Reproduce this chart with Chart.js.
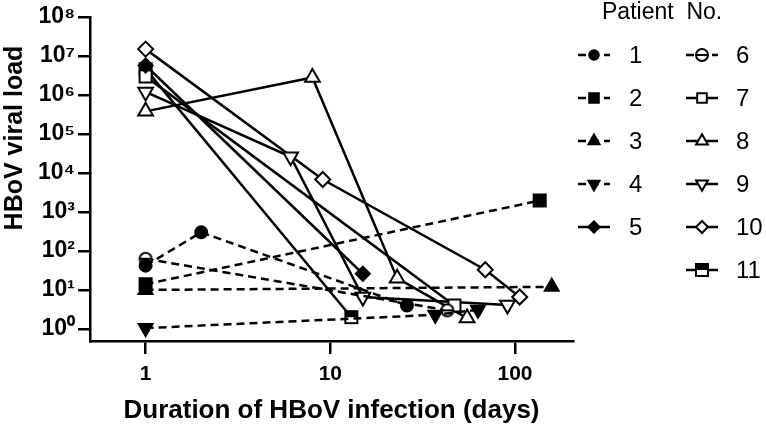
<!DOCTYPE html>
<html lang="en">
<head>
<meta charset="UTF-8">
<title>HBoV viral load</title>
<script src="https://cdn.jsdelivr.net/npm/chart.js@4.4.1/dist/chart.umd.min.js"></script>
<style>
  html, body { margin: 0; padding: 0; background: #fff; }
  #wrap { width: 766px; height: 426px; }
</style>
</head>
<body>
<div id="wrap"><canvas id="chart" width="766" height="426"></canvas></div>
<script>
// days of infection and viral load, one pair of arrays per patient
const days1 = [1, 2, 26];          const load1 = [42, 300, 4];
const days2 = [1, 136];            const load2 = [14, 1960];
const days3 = [1, 158];            const load3 = [10, 12];
const days4 = [1, 37, 63];         const load4 = [1.05, 2.3, 3.1];
const days5 = [1, 15];             const load5 = [5.7e6, 26];
const days6 = [1, 43];             const load6 = [63, 3];
const days7 = [1, 47];             const load7 = [3e6, 4];
const days8 = [1, 8, 23, 55];      const load8 = [3.8e5, 2.8e6, 20, 1.9];
const days9 = [1, 6.1, 15, 91];    const load9 = [1.2e6, 2.6e4, 6.6, 4.1];
const days10 = [1, 9.1, 69, 106];  const load10 = [1.5e7, 6.8e3, 33, 6.6];
const days11 = [1, 13];            const load11 = [4.6e6, 2];

const patients = ['1', '2', '3', '4', '5', '6', '7', '8', '9', '10', '11'];
const xTicks = [1, 10, 100];
const yTicks = [1, 10, 1e2, 1e3, 1e4, 1e5, 1e6, 1e7, 1e8];

const FONT = '"Liberation Sans", Arial, Helvetica, sans-serif';
const sup = ['⁰', '¹', '²', '³', '⁴', '⁵', '⁶', '⁷', '⁸'];

// half-filled markers (patients 6 and 11)
function thetaCircle() {
  const c = document.createElement('canvas');
  c.width = 16; c.height = 16;
  const g = c.getContext('2d');
  g.lineWidth = 2; g.strokeStyle = '#000'; g.fillStyle = '#fff';
  g.beginPath(); g.arc(8, 8, 6, 0, Math.PI * 2); g.fill(); g.stroke();
  g.beginPath(); g.moveTo(2, 8); g.lineTo(14, 8); g.stroke();
  return c;
}
function halfSquare() {
  const c = document.createElement('canvas');
  c.width = 16; c.height = 16;
  const g = c.getContext('2d');
  g.fillStyle = '#fff'; g.fillRect(2, 2, 12, 12);
  g.fillStyle = '#000'; g.fillRect(2, 2, 12, 6);
  g.lineWidth = 2; g.strokeStyle = '#000'; g.strokeRect(2, 2, 12, 12);
  return c;
}

const dashed = [8, 5];
function series(i, days, load, style, open, dash, radius, rotation) {
  return {
    label: patients[i],
    data: days.map((d, k) => ({ x: d, y: load[k] })),
    borderColor: '#000',
    borderWidth: 2.5,
    borderDash: dash ? dashed : [],
    pointStyle: style,
    pointRotation: rotation || 0,
    pointRadius: radius,
    pointHoverRadius: radius,
    pointBorderWidth: 2,
    pointBorderColor: '#000',
    pointBackgroundColor: open ? '#fff' : '#000',
    tension: 0,
    clip: false
  };
}

const datasets = [
  series(0, days1, load1, 'circle', false, true, 6),
  series(1, days2, load2, 'rect', false, true, 8.5),
  series(2, days3, load3, 'triangle', false, true, 8),
  series(3, days4, load4, 'triangle', false, true, 8, 180),
  series(4, days5, load5, 'rectRot', false, false, 7),
  series(5, days6, load6, thetaCircle(), true, true, 7),
  series(6, days7, load7, 'rect', true, false, 8.5),
  series(7, days8, load8, 'triangle', true, false, 8.5),
  series(8, days9, load9, 'triangle', true, false, 8.5, 180),
  series(9, days10, load10, 'rectRot', true, false, 7.5),
  series(10, days11, load11, halfSquare(), true, false, 7)
];

// legend in two columns plus y title, drawn on the canvas
const extras = {
  id: 'extras',
  afterDraw(chart) {
    const ctx = chart.ctx;
    ctx.save();
    ctx.fillStyle = '#000';
    ctx.textBaseline = 'middle';

    ctx.save();
    ctx.font = 'bold 25px ' + FONT;
    ctx.textAlign = 'center';
    ctx.translate(15, 138);
    ctx.rotate(-Math.PI / 2);
    ctx.fillText('HBoV viral load', 0, 0);
    ctx.restore();

    ctx.font = '23px ' + FONT;
    ctx.textAlign = 'left';
    ctx.fillText('Patient  No.', 602, 13);

    chart.data.datasets.forEach((ds, i) => {
      const col = i < 5 ? 0 : 1;
      const row = i < 5 ? i : i - 5;
      const mx = col ? 702 : 594;
      const y = 55 + row * 43;
      ctx.strokeStyle = '#000';
      ctx.lineWidth = 2.5;
      ctx.setLineDash(ds.borderDash);
      ctx.beginPath(); ctx.moveTo(mx - 16, y); ctx.lineTo(mx + 16, y); ctx.stroke();
      ctx.setLineDash([]);
      ctx.fillStyle = ds.pointBackgroundColor;
      ctx.lineWidth = 2;
      Chart.helpers.drawPoint(ctx, {
        pointStyle: ds.pointStyle, rotation: ds.pointRotation,
        radius: ds.pointRadius * 0.8, borderWidth: 2
      }, mx, y);
      ctx.fillStyle = '#000';
      ctx.font = '24px ' + FONT;
      ctx.fillText(ds.label, col ? 736 : 629, y + 1);
    });
    ctx.restore();
  }
};

new Chart(document.getElementById('chart'), {
  type: 'line',
  data: { datasets: datasets },
  plugins: [extras],
  options: {
    responsive: false,
    animation: false,
    devicePixelRatio: 1,
    layout: { padding: { left: 0, right: 193, top: 17, bottom: 0 } },
    plugins: { legend: { display: false }, tooltip: { enabled: false } },
    scales: {
      x: {
        type: 'logarithmic',
        min: 0.5, max: 206,
        afterBuildTicks: s => { s.ticks = xTicks.map(v => ({ value: v })); },
        afterFit: s => { s.height = 85; },
        ticks: {
          callback: v => String(v),
          font: { family: FONT, size: 21, weight: 'bold' },
          color: '#000', padding: 8, maxRotation: 0, autoSkip: false
        },
        grid: { display: true, drawOnChartArea: false, drawTicks: true, tickLength: 13, color: '#000', lineWidth: 2.5 },
        border: { display: true, color: '#000', width: 2.5 },
        title: {
          display: true, text: 'Duration of HBoV infection (days)',
          font: { family: FONT, size: 26, weight: 'bold' }, color: '#000',
          padding: { top: 0, bottom: 0 }
        }
      },
      y: {
        type: 'logarithmic',
        min: 0.49, max: 1e8,
        afterBuildTicks: s => { s.ticks = yTicks.map(v => ({ value: v })); },
        afterFit: s => { s.width = 90; },
        ticks: {
          callback: v => '10' + sup[Math.round(Math.log10(v))],
          font: { family: FONT, size: 23, weight: 'bold' },
          color: '#000', padding: 3, autoSkip: false
        },
        grid: { display: true, drawOnChartArea: false, drawTicks: true, tickLength: 12, color: '#000', lineWidth: 2.5 },
        border: { display: true, color: '#000', width: 2.5 }
      }
    }
  }
});
</script>
</body>
</html>
